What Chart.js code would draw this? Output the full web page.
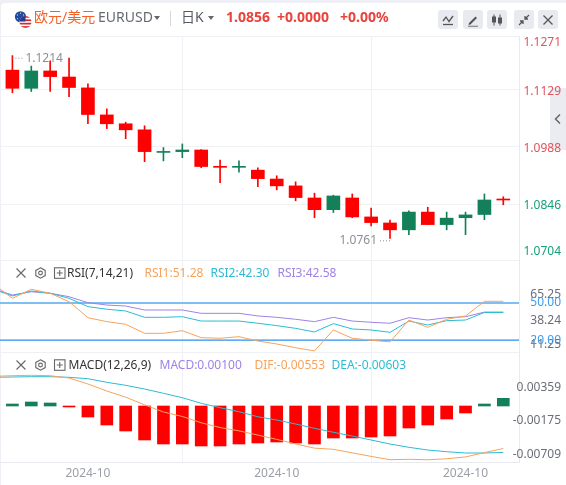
<!DOCTYPE html>
<html>
<head>
<meta charset="utf-8">
<script src="https://cdn.jsdelivr.net/npm/chart.js@4.4.1/dist/chart.umd.min.js"></script>
<style>
  html, body { margin: 0; padding: 0; }
  body { width: 566px; height: 485px; position: relative; overflow: hidden; background: #eef0f5;
         font-family: "Noto Sans", "Noto Sans CJK SC", sans-serif; }
  #card { position: absolute; left: 1px; top: 3px; right: 0; bottom: 0; background: #fff; border-top-left-radius: 4px; }
  #chart { position: absolute; left: 0; top: 0; }
  .abs { position: absolute; white-space: nowrap; line-height: 1; }
  .t14 { font-size: 14px; }
  .t12 { font-size: 12px; }
  .b { font-weight: bold; }
  .caret { position: absolute; width: 0; height: 0; border-left: 3.5px solid transparent;
           border-right: 3.5px solid transparent; border-top: 4px solid #666; }
  .btn { position: absolute; top: 10px; width: 20px; height: 19px; border-radius: 3px; background: #e8eaef; }
  .btn svg { position: absolute; left: 3px; top: 2.5px; }
</style>
</head>
<body>
<div id="card"></div>
<!-- side collapse tab sits under the canvas so the axis labels overlay it -->
<div class="abs" style="left:550px;top:88px;width:16px;height:62px;background:#ebecf1;border-radius:3px 0 0 3px"></div>
<svg class="abs" style="left:553px;top:113px" width="10" height="12" viewBox="0 0 10 12" fill="none" stroke="#666" stroke-width="1.5">
  <path d="M7 1.5 L2.5 6 L7 10.5"/></svg>
<canvas id="chart" width="566" height="485"></canvas>

<!-- top bar -->
<svg class="abs" style="left:13px;top:10px" width="20" height="19" viewBox="0 0 20 19">
  <circle cx="7.5" cy="6.8" r="5.6" fill="#1f49a6"/>
  <g fill="#f7d21e">
    <circle cx="7.5" cy="3.3" r="0.7"/><circle cx="10.5" cy="5" r="0.7"/><circle cx="10.5" cy="8.6" r="0.7"/>
    <circle cx="7.5" cy="10.3" r="0.7"/><circle cx="4.5" cy="8.6" r="0.7"/><circle cx="4.5" cy="5" r="0.7"/>
  </g>
  <clipPath id="us"><circle cx="12.5" cy="12" r="6"/></clipPath>
  <g clip-path="url(#us)">
    <rect x="6" y="5.5" width="13" height="13" fill="#fff"/>
    <rect x="6" y="6" width="13" height="1.7" fill="#d7262c"/>
    <rect x="6" y="9.4" width="13" height="1.7" fill="#d7262c"/>
    <rect x="6" y="12.8" width="13" height="1.7" fill="#d7262c"/>
    <rect x="6" y="16.2" width="13" height="1.7" fill="#d7262c"/>
    <rect x="6" y="5.5" width="6.5" height="6" fill="#27388f"/>
  </g>
</svg>
<span class="abs t14" style="left:34px;top:10px;color:#f0642c">欧元/美元</span>
<span class="abs t14" style="left:98px;top:10px;color:#666a73">EURUSD</span>
<div class="caret" style="left:154px;top:16px"></div>
<div class="abs" style="left:170px;top:11px;width:1px;height:15px;background:#d5d7dd"></div>
<span class="abs t14" style="left:181px;top:10px;color:#555a63">日K</span>
<div class="caret" style="left:208px;top:16px"></div>
<span class="abs t14 b" style="left:226px;top:10px;color:#e8433d">1.0856</span>
<span class="abs t14 b" style="left:277px;top:10px;color:#e8433d">+0.0000</span>
<span class="abs t14 b" style="left:340px;top:10px;color:#e8433d">+0.00%</span>

<div class="btn" style="left:438px"><svg width="14" height="14" viewBox="0 0 14 14" fill="none" stroke="#555" stroke-width="1.3">
  <path d="M2 8 L5 4 L8 8.5 L12 3"/><path d="M2 11.5 H12"/></svg></div>
<div class="btn" style="left:463px"><svg width="14" height="14" viewBox="0 0 14 14" fill="#555">
  <path d="M3 10 L9.5 3.5 L11 5 L4.5 11.5 L2.5 12 Z"/><path d="M2 12.8 H12 V13.6 H2 Z"/></svg></div>
<div class="btn" style="left:487px"><svg width="14" height="14" viewBox="0 0 14 14" fill="#555" stroke="#555" stroke-width="1">
  <path d="M4 1.5 V12.5 M10 1.5 V12.5" fill="none"/><rect x="2.5" y="4" width="3" height="5"/><rect x="8.5" y="5" width="3" height="5"/></svg></div>
<div class="btn" style="left:514px"><svg width="14" height="14" viewBox="0 0 14 14" fill="none" stroke="#555" stroke-width="1.3">
  <path d="M12 2 L8 6 M8 3 V6 H11"/><path d="M2 12 L6 8 M3 8 H6 V11"/></svg></div>
<div class="btn" style="left:538px"><svg width="14" height="14" viewBox="0 0 14 14" fill="none" stroke="#555" stroke-width="1.3">
  <path d="M2.5 2.5 L11.5 11.5 M11.5 2.5 L2.5 11.5"/></svg></div>

<!-- RSI pane header -->
<svg class="abs" style="left:15px;top:267px" width="52" height="12" viewBox="0 0 52 12" fill="none" stroke="#666" stroke-width="1.1">
  <path d="M1.5 1.5 L10.5 10.5 M10.5 1.5 L1.5 10.5"/>
  <path d="M25.5 0.8 L30.2 3.4 V8.6 L25.5 11.2 L20.8 8.6 V3.4 Z"/><circle cx="25.5" cy="6" r="1.9"/>
  <rect x="39.5" y="0.8" width="10.5" height="10.5"/><path d="M44.75 3 V9 M41.75 6 H47.75"/>
</svg>
<span class="abs t12" style="left:67px;top:267px;color:#333">RSI(7,14,21)</span>
<span class="abs t12" style="left:144.5px;top:267px;color:#f7a35c">RSI1:51.28</span>
<span class="abs t12" style="left:210.5px;top:267px;color:#2bbcd4">RSI2:42.30</span>
<span class="abs t12" style="left:277.5px;top:267px;color:#a082e6">RSI3:42.58</span>

<!-- MACD pane header -->
<svg class="abs" style="left:15px;top:359px" width="52" height="12" viewBox="0 0 52 12" fill="none" stroke="#666" stroke-width="1.1">
  <path d="M1.5 1.5 L10.5 10.5 M10.5 1.5 L1.5 10.5"/>
  <path d="M25.5 0.8 L30.2 3.4 V8.6 L25.5 11.2 L20.8 8.6 V3.4 Z"/><circle cx="25.5" cy="6" r="1.9"/>
  <rect x="39.5" y="0.8" width="10.5" height="10.5"/><path d="M44.75 3 V9 M41.75 6 H47.75"/>
</svg>
<span class="abs t12" style="left:68.5px;top:359px;color:#333">MACD(12,26,9)</span>
<span class="abs t12" style="left:159.5px;top:359px;color:#a082e6">MACD:0.00100</span>
<span class="abs t12" style="left:254.5px;top:359px;color:#f7a35c">DIF:-0.00553</span>
<span class="abs t12" style="left:331.5px;top:359px;color:#2bbcd4">DEA:-0.00603</span>

<script>
// daily candles, one per slot (index 0..26)
const open  = [1.1178,1.1133,1.1176,1.1161,1.1134,1.1067,1.1045,1.1030,1.0974,1.0976,1.0980,1.0938,1.0937,1.0930,1.0908,1.0891,1.0861,1.0832,1.0861,1.0814,1.0799,1.0782,1.0826,1.0795,1.0812,1.0820,1.0856];
const high  = [1.1214,1.1188,1.1201,1.1208,1.1144,1.1082,1.1049,1.1040,1.0986,1.0995,1.0981,1.0955,1.0953,1.0936,1.0916,1.0901,1.0873,1.0868,1.0871,1.0836,1.0806,1.0829,1.0838,1.0826,1.0826,1.0871,1.0864];
const low   = [1.1122,1.1125,1.1125,1.1112,1.1045,1.1033,1.1008,1.0951,1.0953,1.0961,1.0936,1.0899,1.0925,1.0889,1.0881,1.0854,1.0812,1.0825,1.0812,1.0792,1.0761,1.0770,1.0795,1.0782,1.0770,1.0807,1.0844];
const close = [1.1133,1.1176,1.1162,1.1135,1.1068,1.1045,1.1030,1.0976,1.0976,1.0980,1.0939,1.0937,1.0938,1.0909,1.0891,1.0862,1.0832,1.0866,1.0814,1.0800,1.0782,1.0826,1.0795,1.0811,1.0819,1.0856,1.0856];

// indicator lines start one slot earlier (index -1, just off the left edge)
const rsi1 = [65.2,53.7,61.0,57.8,51.0,38.1,34.9,32.8,25.5,25.5,27.6,22.0,21.5,22.8,19.3,16.9,13.9,11.3,28.2,21.5,19.9,18.6,36.2,30.3,36.8,39.5,51.3,51.3];
const rsi2 = [61.0,55.6,59.6,57.8,53.7,47.0,44.9,43.5,38.4,38.4,38.9,35.4,35.4,35.4,33.6,31.7,29.5,26.6,33.3,29.0,28.2,26.3,35.4,32.2,35.7,36.2,42.3,42.3];
const rsi3 = [61.4,56.4,59.0,57.8,55.0,50.2,48.3,47.5,44.3,44.3,44.3,41.6,41.6,41.6,39.5,38.4,36.8,34.9,38.4,35.4,34.4,33.6,38.1,36.2,38.1,38.9,42.6,42.6];
const dif  = [0.00386,0.00394,0.00399,0.00394,0.00364,0.00286,0.00195,0.00115,0.00015,-0.00078,-0.00136,-0.00218,-0.00280,-0.00323,-0.00378,-0.00434,-0.00493,-0.00548,-0.00563,-0.00609,-0.00655,-0.00698,-0.00693,-0.00699,-0.00686,-0.00662,-0.00606,-0.00553];
const dea  = [0.00373,0.00377,0.00381,0.00381,0.00373,0.00355,0.00308,0.00269,0.00221,0.00165,0.00108,0.00035,-0.00022,-0.00074,-0.00140,-0.00182,-0.00234,-0.00290,-0.00342,-0.00390,-0.00442,-0.00494,-0.00537,-0.00572,-0.00594,-0.00611,-0.00611,-0.00603];
const macdHist = [0.00026,0.00052,0.00039,-0.00013,-0.00143,-0.00247,-0.00325,-0.00442,-0.00494,-0.00494,-0.00520,-0.00520,-0.00494,-0.00481,-0.00468,-0.00481,-0.00494,-0.00416,-0.00416,-0.00403,-0.00390,-0.00286,-0.00247,-0.00169,-0.00091,0.00026,0.00100];

// axis labels
const priceTicks = [1.1271, 1.1129, 1.0988, 1.0846, 1.0704];
const rsiTicks = [65.25, 38.24, 11.25];
const rsiLevels = [50, 20];
const macdTicks = [0.00359, -0.00175, -0.00709];
const xTickIdx = [4, 14, 24];
const xTickLabels = ['2024-10', '2024-10', '2024-10'];

const UP = '#13805a', DOWN = '#ff0000';
const ORANGE = '#f7a35c', CYAN = '#2bbcd4', PURPLE = '#a082e6';
const lastClose = close[close.length - 1];

const candleColor = close.map((c, i) => c > open[i] ? UP : DOWN);
const histColor = macdHist.map(v => v > 0 ? UP : DOWN);
const shifted = arr => arr.map((v, i) => ({ x: i - 1, y: v }));

const panes = {
  id: 'panes',
  beforeDatasetsDraw(chart){
    const { ctx, chartArea: a, scales } = chart;
    ctx.save();
    ctx.strokeStyle = '#eef0f4';
    ctx.lineWidth = 1;
    [a.top, scales.main.bottom, scales.rsi.bottom].forEach(y => {
      ctx.beginPath(); ctx.moveTo(a.left, Math.round(y) + .5); ctx.lineTo(a.right, Math.round(y) + .5); ctx.stroke();
    });
    ctx.strokeStyle = '#7fbef5'; ctx.lineWidth = 2;
    let y = scales.rsi.getPixelForValue(rsiLevels[0]);
    ctx.beginPath(); ctx.moveTo(a.left, y); ctx.lineTo(a.right, y); ctx.stroke();
    ctx.strokeStyle = '#2a8ff0'; ctx.lineWidth = 1.4;
    y = scales.rsi.getPixelForValue(rsiLevels[1]);
    ctx.beginPath(); ctx.moveTo(a.left, y); ctx.lineTo(a.right, y); ctx.stroke();
    ctx.restore();
  },
  afterDatasetsDraw(chart){
    const { ctx, chartArea: a, scales } = chart;
    const x = scales.x, p = scales.main;
    ctx.save();
    ctx.font = '12px "Noto Sans", sans-serif';
    ctx.fillStyle = '#8c8f99';
    ctx.strokeStyle = '#8c8f99';
    ctx.lineWidth = 1;
    ctx.setLineDash([1, 2]);
    ctx.textBaseline = 'middle';
    const mark = (idx, val) => {
      const px = x.getPixelForValue(idx), py = p.getPixelForValue(val) + 2.5;
      const left = px > (a.left + a.right) / 2;
      const end = left ? px - 11 : px + 11;
      ctx.beginPath(); ctx.moveTo(px, py); ctx.lineTo(end, py); ctx.stroke();
      ctx.textAlign = left ? 'right' : 'left';
      ctx.fillText(val.toFixed(4), left ? end - 2 : end + 2, py);
    };
    const hi = Math.max(...high), lo = Math.min(...low);
    mark(high.indexOf(hi), hi);
    mark(low.indexOf(lo), lo);
    ctx.restore();
  },
  afterDraw(chart){
    const { ctx, scales } = chart;
    ctx.save();
    ctx.font = '12px "Noto Sans", sans-serif';
    ctx.textAlign = 'right';
    ctx.textBaseline = 'middle';
    const put = (scale, values, digits, shift, color) => {
      values.forEach((v, i) => {
        const off = i === 0 ? shift[0] : (i === values.length - 1 ? shift[2] : shift[1]);
        ctx.fillStyle = typeof color === 'function' ? color(v) : color;
        ctx.fillText(v.toFixed(digits), 561, scale.getPixelForValue(v) + off);
      });
    };
    put(scales.main, priceTicks, 4, [9.6, 2, -9.6], v => v > lastClose ? '#e2525c' : '#16a079');
    put(scales.rsi, rsiTicks, 2, [11, 3.5, -6.7], '#6b6e78');
    ctx.fillStyle = '#3a9cf0';
    rsiLevels.forEach(v => ctx.fillText(v.toFixed(2), 561, scales.rsi.getPixelForValue(v)));
    put(scales.macd, macdTicks, 5, [9, 1.5, -5.5], '#6b6e78');
    ctx.restore();
  }
};

Chart.defaults.font.family = '"Noto Sans", sans-serif';

const xMin = -0.6568, xMax = 26.832;
const fixWidth = s => { s.width = 47; };

new Chart(document.getElementById('chart'), {
  type: 'bar',
  data: {
    datasets: [
      { type: 'line', data: shifted(rsi1), yAxisID: 'rsi', borderColor: ORANGE, borderWidth: 1, pointRadius: 0 },
      { type: 'line', data: shifted(rsi2), yAxisID: 'rsi', borderColor: CYAN, borderWidth: 1, pointRadius: 0 },
      { type: 'line', data: shifted(rsi3), yAxisID: 'rsi', borderColor: PURPLE, borderWidth: 1, pointRadius: 0 },
      { type: 'line', data: shifted(dif), yAxisID: 'macd', borderColor: ORANGE, borderWidth: 1, pointRadius: 0 },
      { type: 'line', data: shifted(dea), yAxisID: 'macd', borderColor: CYAN, borderWidth: 1, pointRadius: 0 },
      { data: macdHist.map((v, i) => ({ x: i, y: v })), yAxisID: 'macd', backgroundColor: histColor,
        barThickness: 12, grouped: false, minBarLength: 1 },
      { data: open.map((o, i) => ({ x: i, y: [o, close[i]] })), yAxisID: 'main', backgroundColor: candleColor,
        barThickness: 13, grouped: false, minBarLength: 1 },
      { data: low.map((l, i) => ({ x: i, y: [l, high[i]] })), yAxisID: 'main', backgroundColor: candleColor,
        barThickness: 1, grouped: false }
    ]
  },
  options: {
    responsive: false,
    animation: false,
    events: [],
    layout: { padding: { top: 36, left: 0, right: 0, bottom: 0 } },
    plugins: { legend: { display: false }, tooltip: { enabled: false } },
    scales: {
      x: {
        type: 'linear', min: xMin, max: xMax, offset: false,
        afterBuildTicks: s => { s.ticks = xTickIdx.map(v => ({ value: v })); },
        ticks: { callback: (v, i) => xTickLabels[i], color: '#9c9ea8', font: { size: 12 }, padding: 4,
                 maxRotation: 0, autoSkip: false },
        grid: { color: '#f0f1f5', drawTicks: false },
        border: { color: '#e8eaef' },
        afterFit: s => { s.height = 23; }
      },
      main: {
        position: 'right', stack: 'panes', stackWeight: 224, min: 1.070718, max: 1.12627,
        afterBuildTicks: s => { s.ticks = priceTicks.slice(1, 4).map(v => ({ value: v })); },
        ticks: { display: false }, grid: { color: '#f1f2f6', drawTicks: false },
        border: { color: '#e8eaef' }, afterFit: fixWidth
      },
      rsi: {
        position: 'right', stack: 'panes', stackWeight: 92, min: 10.44, max: 84.59,
        ticks: { display: false }, grid: { display: false },
        border: { color: '#e8eaef' }, afterFit: fixWidth
      },
      macd: {
        position: 'right', stack: 'panes', stackWeight: 110, min: -0.00728, max: 0.00702,
        ticks: { display: false }, grid: { display: false },
        border: { color: '#e8eaef' }, afterFit: fixWidth
      }
    }
  },
  plugins: [panes]
});
</script>
</body>
</html>
